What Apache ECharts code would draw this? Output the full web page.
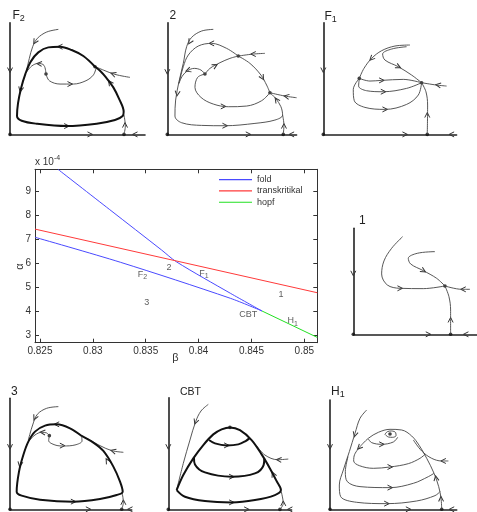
<!DOCTYPE html>
<html><head><meta charset="utf-8">
<script src="https://cdn.jsdelivr.net/npm/echarts@6/dist/echarts.min.js"></script>
<style>html,body{margin:0;padding:0;background:#fff}#c{width:477px;height:512px}</style>
</head><body><div id="c"></div>
<script>
// ---- bifurcation diagram data (alpha in units of 1e-4) ----
const betaTicks = [0.825, 0.83, 0.835, 0.84, 0.845, 0.85];
const alphaTicks = [3, 4, 5, 6, 7, 8, 9];
const foldUpper = [[0.8267, 9.93], [0.8316, 8.25], [0.8365, 6.57], [0.8379, 6.08], [0.843, 4.77], [0.846, 4.03]];
const foldLower = [[0.82453, 7.1], [0.8326, 6.06], [0.843, 4.56], [0.846, 4.03]];
const transcritical = [[0.82453, 7.44], [0.85123, 4.79]];
const hopf = [[0.846, 4.03], [0.85123, 2.93]];
const regionLabels = [
  [0.8372, 5.82, '{m|2}'], [0.8347, 5.55, '{m|F}{s|2}'], [0.8405, 5.6, '{m|F}{s|1}'],
  [0.8478, 4.7, '{m|1}'], [0.8351, 4.4, '{m|3}'], [0.8447, 3.9, '{m|CBT}'], [0.8489, 3.62, '{m|H}{s|1}']
];

// ---- phase portrait sketches (panel-local sketch units) ----
const F2_thick = [[[285,200],[250,168],[215,150],[180,140],[145,142],[115,157],[92,185],[76,222],[63,265],[54,310],[51,348],[65,362],[110,371],[200,378],[290,371],[345,360],[368,348],[371,335],[358,298],[340,262],[318,232],[300,212],[285,200]]];
const F2_thin = [
  [[175,88],[140,96],[112,115],[98,140],[88,175],[80,210]],
  [[78,218],[95,198],[115,190],[132,196],[138,222]],
  [[138,222],[148,242],[180,252],[220,252],[258,242],[280,225],[288,205]],
  [[390,232],[345,223],[310,210],[287,200]],
  [[372,403],[376,378],[372,345]]
];
const F2_arrows = [[105,125,240],[180,140,180],[62,268,258],[200,378,0],[330,248,126],[118,191,175],[210,252,0],[340,222,160],[375,375,90],[30,210,270],[270,403,0],[405,403,180]];
const F2_dots = [[285,200],[138,222],[30,403],[372,403]];

const P2_thick = [];
const P2_thin = [
  [[175,88],[140,93],[110,112],[95,140],[85,190],[72,245],[62,300],[60,348],[80,368],[140,376],[210,377],[300,370],[360,360],[383,345],[378,320],[362,295],[345,278]],
  [[250,168],[215,145],[170,130],[130,138],[100,165],[85,200],[72,250]],
  [[250,168],[285,190],[318,225],[335,255],[345,278]],
  [[330,160],[295,162],[250,168]],
  [[425,293],[390,288],[345,278]],
  [[150,222],[165,205],[195,188],[225,175],[250,168]],
  [[150,222],[138,210],[118,205],[98,212],[82,228],[72,250]],
  [[150,222],[128,232],[120,262],[138,292],[175,312],[220,320],[275,318],[320,302],[345,278]],
  [[385,403],[387,375],[383,345]]
];
const P2_arrows = [[105,125,240],[170,130,180],[67,280,262],[210,377,0],[365,300,125],[322,232,300],[295,162,180],[395,289,170],[180,197,30],[100,211,200],[205,319,0],[387,378,90],[37,215,270],[280,403,0],[410,403,180]];
const P2_dots = [[250,168],[345,278],[150,222],[37,403],[385,403]];

const F1_thick = [];
const F1_thin = [
  [[300,135],[255,138],[215,152],[185,175],[162,205],[148,235]],
  [[148,235],[180,243],[215,241],[280,238],[335,248]],
  [[148,235],[146,258],[170,272],[220,275],[290,265],[335,248]],
  [[148,235],[130,268],[133,302],[165,322],[225,328],[290,313],[325,285],[335,248]],
  [[290,140],[245,147],[218,162],[225,180],[265,200],[305,225],[335,248]],
  [[335,248],[348,275],[353,315],[352,403]],
  [[410,258],[380,255],[335,248]]
];
const F1_arrows = [[185,175,225],[265,200,333],[215,241,0],[220,275,0],[225,328,0],[352,345,90],[385,255,170],[40,210,270],[285,403,0],[425,403,180]];
const F1_dots = [[148,235],[335,248],[40,403],[352,403]];

const P1_thick = [];
const P1_thin = [
  [[218,110],[185,145],[162,183],[155,222],[172,255],[210,265],[280,266],[345,258]],
  [[315,155],[262,160],[235,175],[242,192],[280,212],[320,235],[345,258]],
  [[345,258],[357,290],[362,330],[362,403]],
  [[420,268],[395,268],[345,258]]
];
const P1_arrows = [[210,265,0],[280,212,330],[362,360,90],[400,268,180],[70,220,270],[295,403,0],[408,403,180]];
const P1_dots = [[345,258],[70,403],[362,403]];

const P3_thick = [[[245,183],[210,160],[170,148],[135,152],[105,170],[85,200],[70,240],[57,290],[50,350],[65,362],[120,374],[220,380],[300,372],[350,360],[368,350],[360,320],[340,275],[310,228],[280,203],[245,183]]];
const P3_thin = [
  [[175,95],[140,100],[112,118],[98,150],[85,195]],
  [[370,232],[335,227],[300,212],[260,190]],
  [[85,200],[105,180],[125,172],[140,174],[148,182]],
  [[148,182],[146,197],[165,210],[190,213],[225,210],[246,198],[245,185]],
  [[365,403],[370,382],[366,352]]
];
const P3_arrows = [[105,128,245],[170,148,180],[60,268,260],[220,380,0],[322,258,120],[340,228,165],[128,172,175],[187,212,0],[370,382,90],[30,215,270],[265,403,0],[390,403,180]];
const P3_dots = [[148,182],[30,403],[365,403]];

const CBT_thick = [
  [[65,345],[85,300],[115,250],[145,210],[175,178],[200,163],[225,157],[255,165],[290,195],[320,238],[345,280],[365,318],[378,345],[360,360],[300,375],[230,382],[150,378],[90,365],[65,345]],
  [[162,195],[180,205],[215,211],[250,208],[272,198],[283,190]],
  [[117,248],[120,268],[150,292],[230,305],[300,295],[326,270],[328,250]]
];
const CBT_thin = [
  [[160,88],[138,108],[122,140],[105,195],[85,265],[65,345]],
  [[400,252],[368,254],[330,240],[305,212]],
  [[375,403],[385,385],[379,350]]
];
const CBT_arrows = [[122,140,250],[215,211,0],[230,305,0],[230,382,0],[355,298,115],[372,254,175],[385,385,90],[40,215,270],[275,403,0],[405,403,180]];
const CBT_dots = [[225,157],[40,403],[375,403]];

const H1_thick = [];
const H1_thin = [
  [[225,178],[232,170],[245,168],[257,173],[258,182],[248,187],[235,186],[225,178]],
  [[175,192],[185,203],[215,208],[250,201],[263,187]],
  [[150,215],[175,190],[205,172],[240,163],[275,165],[305,183],[328,212],[350,250],[372,295],[386,335],[393,370],[395,403]],
  [[150,215],[134,238],[131,258],[148,272],[190,280],[240,276],[295,266],[330,250],[345,238]],
  [[114,245],[106,290],[112,320],[150,335],[240,338],[310,325],[355,305],[372,295]],
  [[170,105],[150,130],[135,175],[118,230],[100,285],[88,330],[92,365],[140,382],[230,386],[320,378],[375,362],[390,350]],
  [[415,258],[395,258],[365,250],[335,228],[310,195]]
];
const H1_arrows = [[135,178,255],[148,217,225],[215,208,0],[240,276,0],[240,338,0],[230,386,0],[378,310,100],[393,372,92],[400,258,180],[60,215,270],[295,403,0],[425,403,180]];
const H1_dots = [[240,177],[60,403],[395,403]];

// ---- layout ----
const panels = [
  {grid:{left:10, top:22.7, width:135, height:111.7}, x:[30,435], y:[68,403], thick:F2_thick, thin:F2_thin, arrows:F2_arrows, dots:F2_dots},
  {grid:{left:167.3, top:22.7, width:129.3, height:111.7}, x:[37,425], y:[68,403], thick:P2_thick, thin:P2_thin, arrows:P2_arrows, dots:P2_dots},
  {grid:{left:323.3, top:22.7, width:133.3, height:111.7}, x:[40,440], y:[68,403], thick:F1_thick, thin:F1_thin, arrows:F1_arrows, dots:F1_dots},
  {grid:{left:353.3, top:228.3, width:123.3, height:106}, x:[70,440], y:[85,403], thick:P1_thick, thin:P1_thin, arrows:P1_arrows, dots:P1_dots},
  {grid:{left:10, top:398.3, width:121.7, height:111}, x:[30,395], y:[70,403], thick:P3_thick, thin:P3_thin, arrows:P3_arrows, dots:P3_dots},
  {grid:{left:168.3, top:397.7, width:123.3, height:111.7}, x:[40,410], y:[68,403], thick:CBT_thick, thin:CBT_thin, arrows:CBT_arrows, dots:CBT_dots},
  {grid:{left:330, top:400, width:126.7, height:109.3}, x:[60,440], y:[75,403], thick:H1_thick, thin:H1_thin, arrows:H1_arrows, dots:H1_dots}
];
const panelLabels = [
  {x:12.5, y:15.5, t:'{m|F}{s|2}'}, {x:169.5, y:15.5, t:'{m|2}'}, {x:324.5, y:16.5, t:'{m|F}{s|1}'},
  {x:359, y:220.5, t:'{m|1}'}, {x:11, y:391.5, t:'{m|3}'}, {x:180, y:392, t:'{c|CBT}'}, {x:331, y:392, t:'{m|H}{s|1}'}
];

const FONT = 'Liberation Sans, Arial, Helvetica, sans-serif';
const chart = echarts.init(document.getElementById('c'), null, {renderer:'canvas'});

const mainX = {type:'value', gridIndex:0, min:0.82453, max:0.85123,
  axisLine:{lineStyle:{color:'#333', width:1}, onZero:false},
  axisTick:{inside:true, length:4, customValues:betaTicks, lineStyle:{color:'#333'}},
  axisLabel:{customValues:betaTicks, fontSize:10, color:'#333', margin:4, fontFamily:FONT},
  splitLine:{show:false}};
const mainY = {type:'value', gridIndex:0, min:2.71, max:9.93,
  axisLine:{lineStyle:{color:'#333', width:1}, onZero:false},
  axisTick:{inside:true, length:4, customValues:alphaTicks, lineStyle:{color:'#333'}},
  axisLabel:{customValues:alphaTicks, fontSize:10, color:'#333', margin:4, fontFamily:FONT},
  splitLine:{show:false}};

const grids = [{left:35, top:169.3, width:282.3, height:173.4}];
const xAxes = [Object.assign({}, mainX, {position:'bottom'}),
  Object.assign({}, mainX, {position:'top', axisLabel:{show:false}})];
const yAxes = [Object.assign({}, mainY, {position:'left'}),
  Object.assign({}, mainY, {position:'right', axisLabel:{show:false}})];

const series = [
  {name:'fold', type:'line', xAxisIndex:0, yAxisIndex:0, data:foldUpper, smooth:0.3, symbol:'none', lineStyle:{color:'#4a4aff', width:1}, itemStyle:{color:'#4a4aff'}},
  {name:'fold', type:'line', xAxisIndex:0, yAxisIndex:0, data:foldLower, smooth:0.3, symbol:'none', lineStyle:{color:'#4a4aff', width:1}, itemStyle:{color:'#4a4aff'}},
  {name:'transkritikal', type:'line', xAxisIndex:0, yAxisIndex:0, data:transcritical, symbol:'none', lineStyle:{color:'#ff3a3a', width:1}, itemStyle:{color:'#ff3a3a'}},
  {name:'hopf', type:'line', xAxisIndex:0, yAxisIndex:0, data:hopf, symbol:'none', lineStyle:{color:'#22e022', width:1}, itemStyle:{color:'#22e022'}},
  {type:'scatter', xAxisIndex:0, yAxisIndex:0, symbolSize:0, silent:true,
    data:regionLabels.map(d => ({value:[d[0], d[1]], txt:d[2]})),
    label:{show:true, position:'inside', formatter:p => p.data.txt,
      rich:{m:{fontSize:9, color:'#333', fontFamily:FONT}, s:{fontSize:7, color:'#333', fontFamily:FONT, padding:[6,0,0,0]}}}}
];

const arrowPath = 'path://M0,0L10,5L0,10';
panels.forEach((p, i) => {
  const gi = i + 1;       // grid index
  const ai = i + 2;       // axis index (main grid uses two x and two y axes)
  grids.push(p.grid);
  xAxes.push({type:'value', gridIndex:gi, min:p.x[0], max:p.x[1], position:'bottom',
    axisLine:{show:true, onZero:false, lineStyle:{color:'#222', width:1.6}},
    axisTick:{show:false}, axisLabel:{show:false}, splitLine:{show:false}});
  yAxes.push({type:'value', gridIndex:gi, min:p.y[0], max:p.y[1], inverse:true, position:'left',
    axisLine:{show:true, onZero:false, lineStyle:{color:'#222', width:1.6}},
    axisTick:{show:false}, axisLabel:{show:false}, splitLine:{show:false}});
  p.thin.forEach(c => series.push({type:'line', xAxisIndex:ai, yAxisIndex:ai, data:c, smooth:0.35, symbol:'none', silent:true,
    lineStyle:{color:'#444', width:0.9}}));
  p.thick.forEach(c => series.push({type:'line', xAxisIndex:ai, yAxisIndex:ai, data:c, smooth:0.35, symbol:'none', silent:true,
    lineStyle:{color:'#111', width:2}}));
  series.push({type:'scatter', xAxisIndex:ai, yAxisIndex:ai, silent:true, symbol:arrowPath, symbolSize:[5,5],
    data:p.arrows.map(a => ({value:[a[0], a[1]], symbolRotate:a[2]})),
    itemStyle:{color:'none', borderColor:'#333', borderWidth:1, opacity:1}});
  series.push({type:'scatter', xAxisIndex:ai, yAxisIndex:ai, silent:true, symbol:'circle', symbolSize:3.6,
    data:p.dots, itemStyle:{color:'#111'}});
});

const graphics = [
  {type:'text', left:35, top:155, style:{text:'{a|x 10}{b|-4}', rich:{a:{fontSize:10, fill:'#333', fontFamily:FONT}, b:{fontSize:7, fill:'#333', fontFamily:FONT, padding:[0,0,7,0]}}}},
  {type:'text', x:20, y:266.5, rotation:Math.PI/2, style:{text:'α', fontSize:11, fill:'#333', fontFamily:FONT, align:'center', verticalAlign:'middle'}},
  {type:'text', x:175.5, y:358, style:{text:'β', fontSize:11, fill:'#333', fontFamily:FONT, align:'center', verticalAlign:'middle'}}
];
panelLabels.forEach(l => graphics.push({type:'text', x:l.x, y:l.y, style:{text:l.t, align:'left', verticalAlign:'middle',
  rich:{m:{fontSize:12, fill:'#222', fontFamily:FONT}, c:{fontSize:10.5, fill:'#222', fontFamily:FONT}, s:{fontSize:9, fill:'#222', fontFamily:FONT, padding:[6,0,0,0]}}}}));

chart.setOption({
  animation:false,
  backgroundColor:'#fff',
  grid:grids, xAxis:xAxes, yAxis:yAxes, series:series,
  legend:{data:['fold','transkritikal','hopf'], orient:'vertical', left:219, top:174, itemWidth:33, itemHeight:1.2, icon:'rect',
    itemGap:0, padding:0, selectedMode:false, textStyle:{fontSize:9, color:'#333', lineHeight:11.3, fontFamily:FONT}},
  graphic:graphics
});
</script></body></html>
